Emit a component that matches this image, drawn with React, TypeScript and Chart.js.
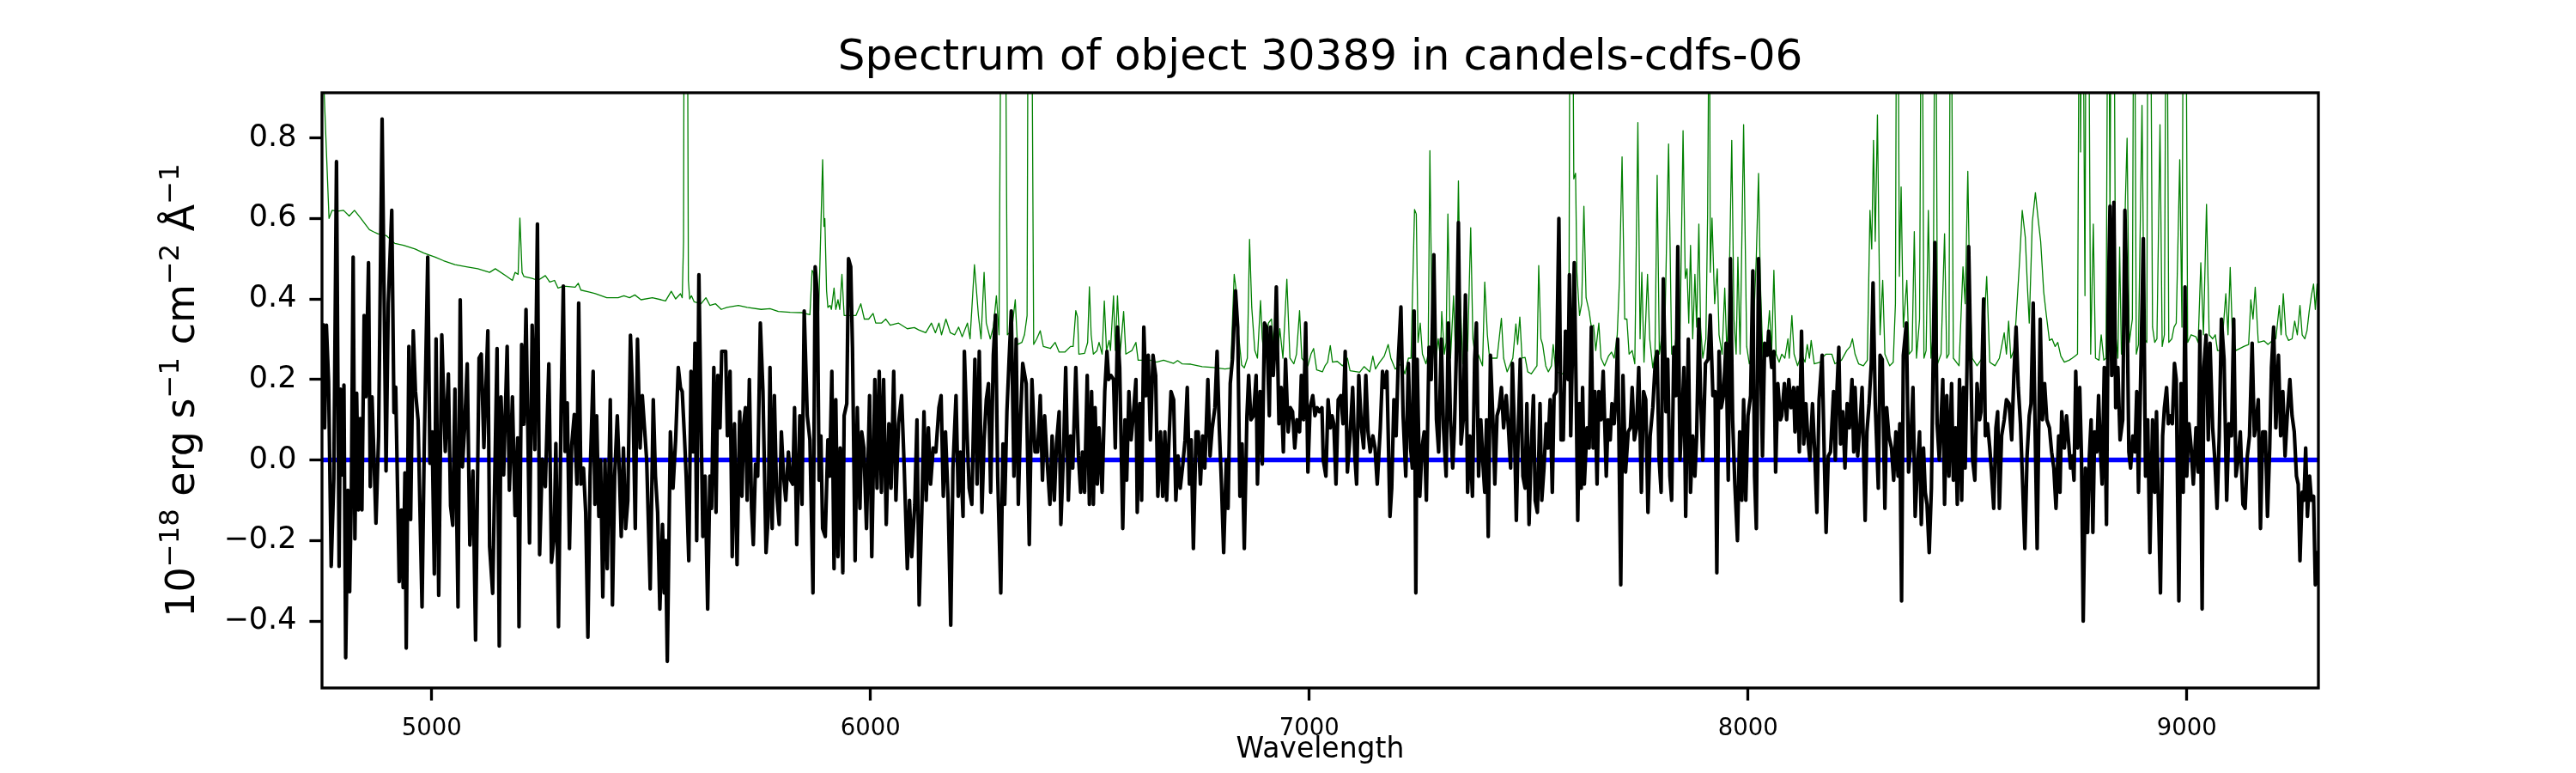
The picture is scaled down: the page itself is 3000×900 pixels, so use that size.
import React, { useEffect, useRef } from 'react';
import { Chart, registerables } from 'chart.js';

Chart.register(...registerables);

const TITLE = 'Spectrum of object 30389 in candels-cdfs-06';
const X_LABEL = 'Wavelength';
// y label as [text, isSuperscript] runs: 10^-18 erg s^-1 cm^-2 Å^-1
const Y_LABEL_RUNS: [string, boolean][] = [
  ['10', false], ['\u221218', true], [' erg s', false], ['\u22121', true],
  [' cm', false], ['\u22122', true], [' \u00C5', false], ['\u22121', true],
];
const X_TICKS = [5000, 6000, 7000, 8000, 9000];
const Y_TICKS = [-0.4, -0.2, 0, 0.2, 0.4, 0.6, 0.8];
const X_RANGE = [4750, 9300];
const Y_RANGE = [-0.566, 0.912];

// [wavelength, flux] pairs of the observed spectrum (black)
const FLUX: number[][] = [
  [4752,.34],[4756,.08],[4760,.335],[4765,.195],[4771,-.264],[4777,-.046],[4783,.741],[4789,-.264],[4792,.176],[4796,-.037],[4800,.186],[4804,-.491],[4809,-.075],[4813,-.327],[4817,-.075],[4821,.504],[4825,-.196],[4829,.166],[4833,-.124],[4837,.103],[4841,-.124],[4846,.359],[4850,.157],[4856,.49],[4860,-.066],[4864,.157],[4868,.021],[4873,-.157],[4879,.06],[4887,.847],[4896,-.027],[4901,.388],[4909,.62],[4914,.118],[4918,.181],[4926,-.302],[4931,-.124],[4935,-.317],[4939,-.032],[4942,-.467],[4948,.282],[4952,-.148],[4958,.321],[4963,.171],[4969,.099],[4978,-.365],[4983,.031],[4991,.504],[4996,-.008],[5001,.07],[5006,-.283],[5010,.301],[5016,-.336],[5023,.311],[5031,.021],[5038,.214],[5043,-.114],[5048,-.162],[5053,.176],[5060,-.365],[5065,.398],[5070,-.017],[5075,.079],[5081,.239],[5087,-.211],[5094,-.027],[5100,-.447],[5108,.253],[5113,.263],[5119,.031],[5128,.321],[5132,-.215],[5139,-.331],[5149,.277],[5154,-.462],[5158,.157],[5164,-.037],[5172,.282],[5177,-.075],[5184,.157],[5190,-.138],[5196,.055],[5199,-.414],[5205,.287],[5210,.089],[5215,.374],[5223,-.206],[5229,.335],[5235,.026],[5241,.586],[5246,-.235],[5252,.002],[5259,-.066],[5267,.239],[5273,-.254],[5279,-.191],[5283,.041],[5289,-.414],[5295,.137],[5300,.432],[5304,.021],[5309,.142],[5314,-.22],[5319,.036],[5325,.113],
  [5331,-.06],[5335,.39],[5340,-.06],[5346,-.02],[5351,-.13],[5356,-.44],[5361,-.04],[5368,.22],[5372,-.11],[5376,.11],[5381,-.14],[5385,.0],[5390,-.34],[5395,.0],[5400,-.27],[5407,.15],[5412,-.36],[5417,-.04],[5423,.11],[5428,-.04],[5432,-.19],[5437,.03],[5442,-.17],[5447,-.1],[5453,.31],[5459,.13],[5464,-.17],[5469,.3],[5475,.03],[5480,.16],[5485,.08],[5490,.0],[5498,-.32],[5505,.15],[5510,-.04],[5515,-.13],[5520,-.37],[5526,-.16],[5530,-.33],[5533,-.2],[5537,-.5],[5544,.07],[5550,-.07],[5556,.05],[5562,.23],[5567,.18],[5571,.17],[5576,.06],[5580,-.04],[5586,-.25],[5591,.22],[5596,.02],[5600,.29],[5604,-.2],[5609,.46],[5614,.09],[5618,-.19],[5623,-.04],[5629,-.37],[5634,-.04],[5638,-.12],[5643,.23],[5648,-.13],[5652,.21],[5657,.08],[5661,.27],[5670,.27],[5674,.06],[5680,.22],[5685,-.24],[5690,.09],[5696,-.26],[5702,.12],[5707,-.09],[5711,.09],[5715,.13],[5719,-.1],[5724,.2],[5729,-.12],[5733,-.21],[5738,-.01],[5743,-.04],[5749,.34],[5755,.17],[5762,-.23],[5767,-.14],[5771,.23],[5776,-.17],[5781,.16],[5786,-.08],[5792,-.16],[5797,.07],[5802,-.04],[5807,-.1],[5813,.02],[5818,-.05],[5823,-.06],[5827,.13],[5832,-.21],[5839,.11],[5844,-.11],[5849,.37],[5856,.11],[5862,.05],[5869,-.33],[5874,.48],[5879,.41],[5883,-.05],[5887,.06],[5891,-.17],
  [5897,-.19],[5903,.05],[5907,-.04],[5912,.22],[5917,-.27],[5921,.15],[5926,-.24],[5931,.03],[5937,-.28],[5940,.11],[5946,.14],[5950,.5],[5955,.48],[5959,.28],[5965,-.25],[5970,.13],[5976,-.12],[5980,.07],[5985,.03],[5991,-.17],[5998,.16],[6003,-.24],[6010,.2],[6015,-.07],[6020,.22],[6025,-.08],[6030,.2],[6036,-.16],[6042,.09],[6047,-.07],[6053,.22],[6058,-.1],[6064,.09],[6071,.16],[6077,-.02],[6084,-.27],[6089,-.1],[6094,-.24],[6101,-.11],[6106,.1],[6111,-.36],[6117,-.13],[6122,.12],[6127,-.1],[6132,.08],[6137,-.06],[6143,.03],[6149,.02],[6156,.13],[6161,.16],[6166,-.09],[6171,.07],[6177,-.1],[6183,-.41],[6188,-.02],[6195,.16],[6200,-.09],[6205,.02],[6211,-.14],[6214,.27],[6220,.07],[6225,-.07],[6231,-.11],[6238,.25],[6243,-.06],[6248,.27],[6254,-.13],[6259,.05],[6264,.15],[6269,.19],[6274,-.08],[6280,.26],[6285,.36],[6290,-.04],[6297,-.33],[6302,.04],[6306,-.11],[6311,.12],[6316,.25],[6321,.37],[6327,-.04],[6332,.3],[6337,-.11],[6342,.1],[6347,.24],[6355,.19],[6362,-.21],[6368,.2],[6375,.02],[6381,.02],[6387,.16],[6392,-.05],[6397,.11],[6402,.01],[6409,-.11],[6414,.06],[6419,-.1],[6424,.04],[6430,.12],[6434,-.16],[6440,.02],[6445,.23],[6451,-.1],[6456,.06],[6461,-.02],
  [6468,.23],[6474,.01],[6479,-.08],[6483,.02],[6488,-.08],[6494,.21],[6499,-.11],[6504,.17],[6508,-.11],[6512,.13],[6517,-.06],[6521,.08],[6528,-.08],[6534,.17],[6539,.27],[6543,.2],[6548,.21],[6554,.2],[6558,.03],[6563,.33],[6568,.23],[6575,-.17],[6580,.1],[6584,-.05],[6589,.17],[6594,.05],[6599,.11],[6605,.2],[6608,-.13],[6614,.14],[6618,-.1],[6623,.33],[6628,.16],[6633,.26],[6638,.05],[6644,.26],[6650,.21],[6655,-.09],[6661,.07],[6666,-.09],[6671,.07],[6675,-.1],[6680,.04],[6685,.17],[6691,.15],[6696,-.1],[6701,.01],[6706,-.07],[6712,-.01],[6717,.05],[6722,.18],[6727,-.06],[6731,.05],[6736,-.22],[6742,.07],[6747,.07],[6752,-.06],[6757,.06],[6762,-.02],[6769,.2],[6774,.01],[6779,.08],[6785,.13],[6790,.27],[6795,.08],[6800,-.06],[6805,-.23],[6811,.0],[6815,-.12],[6820,.19],[6825,.25],[6832,.42],[6837,.33],[6842,-.09],[6847,.04],[6852,-.22],[6858,.11],[6862,.21],[6867,.1],[6873,.11],[6879,.21],[6882,-.06],[6888,.17],[6893,-.01],[6898,.34],[6903,.33],[6909,.11],[6912,.33],[6918,.21],[6922,.29],[6925,.43],[6931,.09],[6936,.18],[6941,.02],[6946,.25],[6952,.07],[6957,.13],[6962,.12],[6967,.03],[6972,.1],[6978,.07],[6982,.21],[6987,.1],[6992,.34],[6997,-.03],[7002,.13],[7008,.16],[7013,.11],[7018,.13],[7023,.12],[7029,.13],
  [7032,.0],[7038,-.04],[7043,.15],[7048,.08],[7052,.11],[7056,.09],[7061,-.06],[7066,.15],[7072,.16],[7077,.09],[7082,.27],[7087,-.03],[7093,.06],[7099,.18],[7104,.01],[7108,-.06],[7113,.21],[7119,.08],[7124,.03],[7129,.21],[7134,.07],[7139,.02],[7145,.06],[7150,.03],[7155,-.06],[7162,.08],[7167,.22],[7172,.18],[7177,.22],[7184,-.14],[7188,-.07],[7193,.15],[7198,.06],[7203,.25],[7209,.38],[7214,.11],[7220,-.04],[7226,.24],[7231,.03],[7235,-.02],[7239,.37],[7243,-.33],[7246,.25],[7252,-.09],[7257,.03],[7262,.07],[7267,-.1],[7273,.28],[7278,.2],[7284,.51],[7290,.1],[7295,.02],[7301,.3],[7306,.08],[7312,-.04],[7317,.34],[7322,.1],[7327,-.02],[7331,.08],[7335,.25],[7340,.59],[7346,.04],[7351,.1],[7356,.41],[7361,-.08],[7366,.06],[7372,-.09],[7377,.25],[7381,.34],[7386,-.04],[7391,.1],[7396,-.01],[7400,-.08],[7404,.1],[7408,-.19],[7413,.26],[7419,.09],[7423,-.06],[7428,.11],[7433,.13],[7438,.18],[7443,.08],[7449,.16],[7454,.08],[7459,-.02],[7463,.24],[7468,.06],[7472,-.15],[7477,.1],[7481,.25],[7487,-.04],[7492,-.07],[7496,.14],[7501,-.16],[7506,.03],[7511,.16],[7515,-.1],[7520,-.13],[7526,.14],[7530,-.1],[7535,-.02],[7540,.09],[7544,.03],[7549,.15],[7554,-.08],[7558,.16],[7563,.17],[7569,.6],[7574,.05],[7579,.05],[7584,.32],[7590,.2],[7593,.46],[7596,.06],
  [7604,.49],[7608,.2],[7612,-.15],[7616,.14],[7620,-.07],[7623,.18],[7627,-.06],[7633,.08],[7638,.03],[7643,.33],[7647,.03],[7651,.17],[7656,-.06],[7660,.17],[7665,.1],[7670,.22],[7677,-.04],[7681,.1],[7686,.05],[7690,.14],[7695,.09],[7699,.16],[7703,.3],[7710,-.31],[7715,.21],[7721,-.03],[7727,.07],[7732,.08],[7736,.18],[7741,.05],[7746,.08],[7751,.23],[7757,-.08],[7762,.17],[7767,.15],[7772,-.13],[7777,.06],[7783,.13],[7788,.23],[7793,.27],[7797,.01],[7802,-.08],[7807,.45],[7813,.12],[7817,.25],[7822,-.04],[7826,-.1],[7831,.28],[7836,.16],[7840,.53],[7845,.0],[7850,.12],[7854,.23],[7858,-.14],[7864,.3],[7869,-.08],[7874,.06],[7879,-.04],[7883,.06],[7888,.35],[7892,.16],[7897,.0],[7903,.24],[7909,.25],[7914,.36],[7920,.16],[7925,.17],[7929,-.28],[7934,.27],[7939,.13],[7944,.16],[7950,.29],[7955,-.05],[7960,.5],[7965,.1],[7970,-.06],[7976,-.2],[7981,.07],[7986,-.1],[7990,.15],[7995,-.1],[8000,.11],[8006,.16],[8011,.47],[8015,-.04],[8019,-.17],[8024,.5],[8029,.25],[8033,.01],[8038,.29],[8044,.26],[8047,.32],[8054,.23],[8059,.27],[8063,-.03],[8068,.19],[8074,.1],[8077,.11],[8083,.19],[8088,.1],[8093,.2],[8098,.13],[8104,.18],[8107,.07],[8113,.18],[8117,.02],[8122,.32],[8127,.04],[8132,.14],[8136,.06],[8141,.0],[8147,.14],[8152,.02],[8157,-.13],[8162,.15],
  [8169,.26],[8174,.0],[8178,-.18],[8183,.01],[8188,.02],[8195,.17],[8199,.0],[8203,.18],[8207,.28],[8211,.04],[8216,.12],[8221,-.02],[8226,.14],[8231,.08],[8237,.2],[8241,.02],[8244,.18],[8250,.01],[8255,.08],[8260,.18],[8267,-.15],[8271,.07],[8276,.14],[8281,.24],[8285,.44],[8290,.14],[8297,-.07],[8301,.26],[8306,.25],[8312,-.12],[8316,.13],[8321,.06],[8327,.03],[8332,-.05],[8337,.07],[8342,-.04],[8346,.09],[8350,-.35],[8354,.26],[8361,.34],[8366,-.03],[8371,.04],[8376,.18],[8381,-.14],[8387,.0],[8391,.07],[8395,-.16],[8400,.03],[8404,-.08],[8408,-.11],[8413,-.23],[8418,-.07],[8422,.25],[8426,.54],[8431,.09],[8436,.0],[8440,.1],[8444,.2],[8448,-.11],[8453,.16],[8458,-.04],[8464,.19],[8468,-.05],[8473,.08],[8477,-.11],[8482,.2],[8487,-.1],[8491,.18],[8495,-.02],[8499,.22],[8503,.53],[8508,.23],[8512,.0],[8517,-.05],[8522,.19],[8528,.1],[8531,.12],[8537,.4],[8541,.06],[8546,.09],[8551,.03],[8555,-.03],[8560,-.12],[8565,.08],[8569,.12],[8573,-.12],[8578,.06],[8584,.1],[8589,.15],[8595,.14],[8601,.05],[8606,.21],[8611,.33],[8616,.18],[8621,.09],[8625,-.03],[8631,-.22],[8636,.01],[8641,.11],[8645,.14],[8650,.39],[8654,.1],[8659,-.22],[8666,.35],[8671,.1],[8676,.19],[8681,.1],[8687,.08],[8692,.02],[8697,-.02],[8702,-.12],[8708,.06],[8711,-.08],[8715,.12],[8721,.03],[8726,.11],[8731,.04],
  [8735,-.02],[8739,.01],[8743,-.05],[8747,.22],[8751,.03],[8756,.18],[8760,.01],[8764,-.4],[8769,-.02],[8774,-.18],[8778,.01],[8782,.1],[8786,-.18],[8790,.07],[8795,.02],[8799,.16],[8803,.03],[8807,-.06],[8812,.23],[8817,-.16],[8821,.39],[8825,.63],[8829,.21],[8834,.64],[8838,.13],[8843,.23],[8848,.05],[8854,.1],[8859,.62],[8864,.38],[8868,.02],[8872,-.02],[8877,.06],[8882,.02],[8886,.17],[8890,-.08],[8895,.21],[8901,.55],[8906,-.04],[8911,.1],[8916,-.23],[8922,.1],[8927,-.08],[8931,.12],[8935,-.09],[8940,-.33],[8945,.06],[8949,.13],[8954,.18],[8958,.09],[8963,.11],[8967,.09],[8972,.24],[8976,.2],[8982,-.35],[8987,.19],[8992,-.08],[8996,.43],[9000,-.04],[9005,.09],[9010,.03],[9015,-.06],[9021,.08],[9026,-.03],[9030,.32],[9035,-.37],[9039,.23],[9044,.31],[9049,.05],[9053,.29],[9059,.08],[9064,.0],[9069,-.12],[9074,.06],[9079,.35],[9085,.25],[9091,-.1],[9096,.09],[9102,.06],[9107,.35],[9112,-.04],[9117,.0],[9122,.07],[9128,-.11],[9133,-.12],[9138,.01],[9143,.06],[9149,.29],[9154,.06],[9158,.09],[9163,.15],[9168,-.17],[9173,.07],[9179,.07],[9184,-.14],[9189,.03],[9193,.23],[9198,.33],[9203,.08],[9209,.26],[9214,.06],[9219,.17],[9224,.01],[9229,.11],[9235,.2],[9240,.11],[9245,.07],[9250,-.04],[9254,-.06],[9258,-.25],[9263,-.08],[9267,-.1],[9271,.03],[9275,-.14],[9280,-.04],[9284,-.1],[9289,-.09],[9293,-.31],[9297,-.23],[9300,-.31]
];

// [wavelength, value] pairs of the thin green curve
const CONTAM: number[][] = [
  [4750,1.05],[4766,.6],[4773,.62],[4786,.618],[4799,.62],[4812,.606],[4824,.62],[4838,.601],[4858,.572],[4867,.567],[4877,.562],[4897,.557],[4916,.538],[4936,.533],[4962,.524],[4982,.514],[5008,.504],[5027,.495],[5053,.485],[5079,.48],[5105,.475],[5132,.466],[5145,.475],[5171,.456],[5184,.446],[5190,.466],[5197,.461],[5201,.601],[5206,.466],[5210,.456],[5229,.451],[5242,.446],[5259,.458],[5269,.442],[5280,.446],[5288,.427],[5301,.432],[5327,.429],
  [5334,.439],[5340,.422],[5360,.417],[5373,.413],[5399,.403],[5425,.403],[5438,.408],[5451,.403],[5463,.41],[5477,.398],[5503,.403],[5523,.398],[5533,.395],[5546,.419],[5556,.4],[5567,.413],[5571,.403],[5574,.543],[5576,1.5],[5582,1.5],[5585,.446],[5588,.4],[5592,.408],[5598,.393],[5614,.388],[5625,.403],[5634,.384],[5647,.388],[5660,.374],[5673,.379],[5699,.384],[5719,.379],[5751,.374],[5771,.376],[5790,.369],[5817,.367],[5843,.366],[5862,.361],[5867,.471],[5870,.466],[5875,.388],[5882,.369],[5891,.746],[5894,.58],[5896,.6],[5900,.42],[5903,.379],
  [5908,.384],[5911,.374],[5917,.427],[5921,.374],[5926,.398],[5930,.374],[5935,.461],[5940,.359],[5953,.359],[5967,.359],[5978,.388],[5986,.35],[5996,.35],[6006,.364],[6012,.34],[6025,.34],[6035,.35],[6045,.335],[6064,.34],[6084,.326],[6100,.329],[6110,.323],[6126,.316],[6139,.34],[6148,.316],[6156,.34],[6162,.311],[6172,.35],[6182,.316],[6192,.311],[6201,.33],[6209,.306],[6221,.34],[6227,.301],[6237,.485],[6246,.359],[6252,.301],[6259,.466],[6264,.34],[6273,.301],[6280,.33],[6287,.408],[6293,.311],[6299,1.5],[6306,1.5],[6312,.311],[6322,.321],[6330,.398],[6335,.287],[6345,.292],[6351,.311],[6357,.359],[6360,1.5],[6366,1.5],[6372,.287],[6379,.301],[6387,.321],[6394,.282],[6410,.277],[6421,.292],[6430,.268],[6443,.268],[6456,.282],
  [6462,.282],[6468,.371],[6472,.355],[6475,.263],[6488,.265],[6495,.292],[6499,.43],[6503,.311],[6508,.263],[6516,.271],[6521,.292],[6528,.263],[6533,.395],[6538,.272],[6544,.297],[6547,.272],[6554,.408],[6558,.272],[6563,.408],[6569,.263],[6577,.369],[6582,.263],[6596,.272],[6605,.292],[6610,.248],[6638,.248],[6652,.243],[6668,.248],[6691,.24],[6700,.247],[6710,.239],[6730,.238],[6756,.232],[6782,.23],[6808,.226],[6821,.228],[6829,.461],[6834,.417],[6839,.311],[6846,.236],[6852,.229],[6859,.253],[6864,.548],[6869,.379],[6876,.272],[6882,.253],[6889,.396],[6893,.301],[6899,.243],[6907,.34],[6914,.35],[6920,.263],[6927,.253],[6933,.326],[6940,.253],[6949,.449],[6956,.253],[6965,.239],[6971,.263],[6978,.371],[6983,.253],[6997,.234],[7004,.263],[7010,.277],[7017,.224],[7030,.219],
  [7036,.234],[7042,.243],[7048,.284],[7053,.243],[7064,.245],[7076,.234],[7087,.253],[7093,.222],[7115,.218],[7125,.232],[7138,.219],[7145,.258],[7151,.226],[7160,.242],[7171,.258],[7180,.287],[7186,.253],[7196,.226],[7210,.239],[7218,.214],[7226,.253],[7232,.253],[7240,.622],[7244,.611],[7248,.292],[7253,.34],[7258,.263],[7266,.239],[7271,.263],[7275,.768],[7280,.311],[7287,.234],[7294,.301],[7299,.253],[7302,.369],[7308,.263],[7312,.292],[7316,.611],[7322,.253],[7329,.408],[7334,.243],[7340,.693],[7344,.408],[7350,.239],[7361,.272],[7368,.577],[7373,.301],[7379,.248],[7385,.263],[7395,.234],[7400,.442],[7406,.311],[7411,.253],[7428,.253],[7438,.352],[7443,.253],[7451,.219],[7464,.253],[7471,.338],[7475,.287],[7480,.355],[7485,.253],[7492,.255],[7498,.219],[7506,.214],[7519,.234],[7523,.483],[7528,.301],[7532,.287],[7539,.234],[7545,.219],[7552,.234],[7556,.287],[7562,.219],[7578,.214],[7587,.234],[7592,.388],[7595,1.5],
  [7599,1.5],[7603,.698],[7607,.712],[7610,.466],[7616,.359],[7621,.388],[7626,.63],[7631,.403],[7638,.369],[7643,.33],[7648,.335],[7653,.272],[7660,.34],[7665,.253],[7673,.234],[7682,.258],[7689,.268],[7695,.253],[7702,.311],[7707,.446],[7713,.753],[7719,.35],[7724,.35],[7729,.263],[7736,.272],[7742,.239],[7749,.838],[7754,.301],[7758,.466],[7763,.243],[7767,.35],[7771,.461],[7776,.301],[7783,.229],[7788,.263],[7793,.707],[7798,.263],[7804,.311],[7810,.301],[7819,.785],[7826,.263],[7832,.263],[7839,.34],[7845,.301],[7852,.818],[7857,.451],[7861,.475],[7865,.34],[7869,.533],[7874,.301],[7879,.461],[7883,.33],[7888,.586],[7892,.33],[7897,.253],[7904,.301],[7908,.611],[7912,1.3],[7914,.466],[7918,.601],[7924,.388],[7930,.475],[7934,.311],[7941,.263],[7947,.427],[7952,.263],[7956,.369],[7963,.794],[7968,.35],[7973,.263],[7977,.504],[7982,.263],[7990,.833],[7997,.282],[8003,.239],[8010,.263],[8019,.504],[8024,.712],[8028,.446],[8034,.253],[8042,.272],[8049,.371],[8054,.272],[8059,.471],[8064,.263],[8071,.243],[8077,.263],[8084,.253],[8091,.301],[8094,.253],[8100,.359],[8105,.263],[8113,.234],[8122,.263],[8130,.243],[8135,.287],[8140,.253],[8144,.297],[8151,.239],[8165,.243],
  [8168,.253],[8178,.263],[8191,.263],[8198,.239],[8213,.248],[8225,.272],[8233,.282],[8238,.301],[8244,.263],[8252,.239],[8263,.234],[8272,.248],[8278,.62],[8282,.524],[8286,.794],[8290,.543],[8295,.857],[8301,.311],[8307,.446],[8312,.263],[8323,.234],[8331,.243],[8336,.388],[8339,1.4],[8342,1.2],[8345,.456],[8349,.678],[8354,.33],[8362,.446],[8367,.263],[8374,.272],[8379,.567],[8384,.253],[8391,.35],[8396,1.5],[8401,.253],[8406,.272],[8411,.62],[8417,.253],[8422,.311],[8427,1.5],[8432,.239],[8440,.263],[8448,.562],[8453,.253],[8458,.263],[8462,1.5],[8468,.253],[8481,.234],[8490,.48],[8495,.388],[8501,.717],[8505,.446],[8511,.253],[8522,.234],[8534,.253],[8544,.456],[8551,.243],[8563,.234],[8573,.253],[8584,.316],[8589,.263],[8594,.345],[8599,.253],[8606,.272],[8611,.35],[8619,.495],[8625,.62],[8632,.553],[8637,.427],[8641,.34],[8648,.591],[8655,.664],[8661,.601],[8667,.543],[8674,.417],[8680,.359],[8687,.297],[8693,.301],[8700,.282],[8706,.292],[8713,.258],[8721,.243],[8732,.248],
  [8739,.253],[8745,.258],[8751,.263],[8756,1.5],[8758,.765],[8762,1.5],[8768,.408],[8771,1.5],[8775,1.5],[8781,.263],[8787,.586],[8792,.253],[8800,.248],[8805,.311],[8811,.248],[8816,.253],[8821,1.5],[8825,.611],[8829,1.5],[8833,1.5],[8838,.311],[8843,.253],[8847,.529],[8851,.263],[8856,.311],[8860,.64],[8864,.799],[8869,.292],[8876,.35],[8880,1.5],[8885,.263],[8890,.287],[8898,.881],[8903,.301],[8909,.292],[8912,1.5],[8916,1.5],[8922,.33],[8927,.292],[8932,.301],[8939,.833],[8944,.282],[8949,.311],[8954,1.5],[8959,.292],[8966,.301],[8971,.33],[8976,.34],[8984,.746],[8989,.33],[8993,1.5],[8997,1.5],[9002,.292],[9010,.311],[9021,.306],[9026,.292],[9032,.49],[9038,.311],[9045,.635],[9051,.311],[9059,.301],[9065,.311],[9070,.272],[9077,.272],[9082,.311],[9089,.413],[9094,.311],[9099,.478],[9104,.311],[9112,.272],[9130,.282],[9141,.287],[9146,.398],[9151,.35],[9156,.429],[9163,.292],[9176,.296],[9185,.287],[9196,.297],[9203,.301],[9211,.384],[9215,.311],[9220,.413],[9226,.311],[9232,.297],[9240,.301],[9246,.345],[9252,.311],[9258,.384],[9263,.311],[9269,.301],[9274,.321],[9279,.369],[9284,.408],[9289,.437],[9293,.374],[9297,.437],[9300,.38]
];

// zero reference line
const ZERO_LINE: number[][] = [[4750, 0], [9300, 0]];

const FONT = 'DejaVu Sans';
const Y_LABEL_SIZE = 46;
const Y_LABEL_SUP = 0.7;

const framePlugin = {
  id: 'axesFrame',
  afterDatasetsDraw(chart: any) {
    const { ctx, chartArea: a } = chart;
    ctx.save();
    ctx.strokeStyle = '#000';
    ctx.lineWidth = 3.3;
    ctx.lineJoin = 'miter';
    ctx.strokeRect(a.left, a.top, a.right - a.left, a.bottom - a.top);
    ctx.restore();
  },
};

// y-axis label with real superscripts (mathtext style), drawn as canvas text
const yLabelPlugin = {
  id: 'yLabelMath',
  afterDraw(chart: any) {
    const { ctx, chartArea: a } = chart;
    const big = `${Y_LABEL_SIZE}px "${FONT}"`;
    const small = `${Y_LABEL_SIZE * Y_LABEL_SUP}px "${FONT}"`;
    ctx.save();
    let total = 0;
    const widths = Y_LABEL_RUNS.map(([t, sup]) => {
      ctx.font = sup ? small : big;
      const w = ctx.measureText(t).width;
      total += w;
      return w;
    });
    ctx.translate(226, (a.top + a.bottom) / 2);
    ctx.rotate(-Math.PI / 2);
    ctx.fillStyle = '#000';
    ctx.textBaseline = 'alphabetic';
    ctx.textAlign = 'left';
    let u = -total / 2;
    Y_LABEL_RUNS.forEach(([t, sup], i) => {
      ctx.font = sup ? small : big;
      ctx.fillText(t, u, sup ? -Y_LABEL_SIZE * 0.4 : 0);
      u += widths[i];
    });
    ctx.restore();
  },
};

const toXY = (pts: number[][]) => pts.map(([x, y]) => ({ x, y }));

export default function App() {
  const ref = useRef<HTMLCanvasElement | null>(null);

  useEffect(() => {
    if (!ref.current) return;
    const chart = new Chart(ref.current, {
      type: 'line',
      data: {
        datasets: [
          {
            label: 'flux',
            data: toXY(FLUX),
            borderColor: '#000000',
            borderWidth: 4.2,
            pointRadius: 0,
            tension: 0,
            borderJoinStyle: 'round',
            fill: false,
            clip: 0,
          } as any,
          {
            label: 'zero',
            data: toXY(ZERO_LINE),
            borderColor: '#0000ff',
            borderWidth: 5.5,
            pointRadius: 0,
            tension: 0,
            fill: false,
            clip: 0,
          } as any,
          {
            label: 'contamination',
            data: toXY(CONTAM),
            borderColor: '#008000',
            borderWidth: 1.3,
            pointRadius: 0,
            tension: 0,
            borderJoinStyle: 'round',
            fill: false,
            clip: 0,
          } as any,
        ],
      },
      options: {
        responsive: false,
        maintainAspectRatio: false,
        devicePixelRatio: 1,
        animation: false,
        events: [],
        layout: { padding: { left: 0, right: 300, top: 0, bottom: 0 } },
        plugins: {
          legend: { display: false },
          tooltip: { enabled: false },
          title: {
            display: true,
            text: TITLE,
            color: '#000',
            fullSize: false,
            font: { family: FONT, size: 50, weight: 'normal', lineHeight: 1 },
            padding: { top: 43, bottom: 15 },
          },
        },
        scales: {
          x: {
            type: 'linear',
            min: X_RANGE[0],
            max: X_RANGE[1],
            afterBuildTicks: (s: any) => {
              s.ticks = X_TICKS.map((v) => ({ value: v }));
            },
            afterFit: (s: any) => {
              s.height = 99;
              s.paddingLeft = 0;
              s.paddingRight = 0;
            },
            grid: {
              drawOnChartArea: false,
              drawTicks: true,
              tickLength: 14.6,
              tickWidth: 3.3,
              tickColor: '#000',
              color: '#000',
            },
            border: { display: false },
            ticks: {
              color: '#000',
              font: { family: FONT, size: 27.5 },
              padding: 17,
              autoSkip: false,
              maxRotation: 0,
              callback: (v: any) => String(v),
            },
            title: {
              display: true,
              text: X_LABEL,
              color: '#000',
              font: { family: FONT, size: 33, lineHeight: 1 },
              padding: { top: 0, bottom: 10 },
            },
          },
          y: {
            type: 'linear',
            min: Y_RANGE[0],
            max: Y_RANGE[1],
            afterBuildTicks: (s: any) => {
              s.ticks = Y_TICKS.map((v) => ({ value: v }));
            },
            afterFit: (s: any) => {
              s.width = 375;
              s.paddingTop = 0;
              s.paddingBottom = 0;
            },
            grid: {
              drawOnChartArea: false,
              drawTicks: true,
              tickLength: 14.6,
              tickWidth: 3.3,
              tickColor: '#000',
              color: '#000',
            },
            border: { display: false },
            ticks: {
              color: '#000',
              font: { family: FONT, size: 35 },
              padding: 15,
              autoSkip: false,
              callback: (v: any) => Number(v).toFixed(1).replace('-', '\u2212'),
            },
            title: { display: false },
          },
        },
      },
      plugins: [framePlugin, yLabelPlugin],
    });
    return () => chart.destroy();
  }, []);

  return (
    <div style={{ position: 'fixed', left: 0, top: 0, width: 3000, height: 900, background: '#ffffff' }}>
      <canvas ref={ref} width={3000} height={900} style={{ width: 3000, height: 900, display: 'block' }} />
    </div>
  );
}
